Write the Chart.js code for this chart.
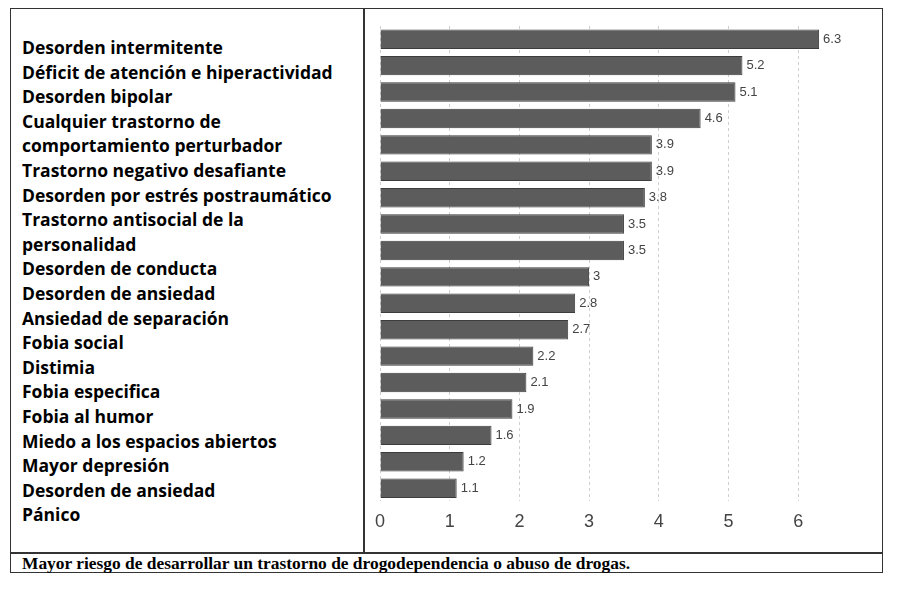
<!DOCTYPE html>
<html>
<head>
<meta charset="utf-8">
<script src="https://cdn.jsdelivr.net/npm/chart.js@4/dist/chart.umd.min.js"></script>
<style>
  body { margin: 0; background: #fff; }
  #frame { position: absolute; left: 10px; top: 8px; width: 873px; height: 565px; border: 1.5px solid #333; box-sizing: border-box; }
  #divider { position: absolute; left: 363px; top: 8px; width: 1.5px; height: 545px; background: #333; }
  #hline { position: absolute; left: 10px; top: 552px; width: 873px; height: 1.5px; background: #333; }
  #labels { position: absolute; left: 22px; top: 35px; font: bold 17.5px "Open Sans", Lato, sans-serif; line-height: 24.6px; color: #000; }
  #caption { position: absolute; left: 22px; top: 554px; font: bold 17.4px "Liberation Serif", "Times New Roman", serif; color: #000; line-height: 19px; }
  #wrap { position: absolute; left: 365px; top: 10px; width: 516px; height: 542px; }
</style>
</head>
<body>
<div id="frame"></div>
<div id="divider"></div>
<div id="hline"></div>
<div id="labels"></div>
<div id="caption"></div>
<div id="wrap"><canvas id="chart-1"></canvas></div>
<script>
// text lines of the left column (as in the original table)
const labelLines = [
    "Desorden intermitente",
    "Déficit de atención e hiperactividad",
    "Desorden bipolar",
    "Cualquier trastorno de",
    "comportamiento perturbador",
    "Trastorno negativo desafiante",
    "Desorden por estrés postraumático",
    "Trastorno antisocial de la",
    "personalidad",
    "Desorden de conducta",
    "Desorden de ansiedad",
    "Ansiedad de separación",
    "Fobia social",
    "Distimia",
    "Fobia especifica",
    "Fobia al humor",
    "Miedo a los espacios abiertos",
    "Mayor depresión",
    "Desorden de ansiedad",
    "Pánico",
];
const caption = "Mayor riesgo de desarrollar un trastorno de drogodependencia o abuso de drogas.";

// one entry per bar
const categories = ["b1", "b2", "b3", "b4", "b5", "b6", "b7", "b8", "b9", "b10",
    "b11", "b12", "b13", "b14", "b15", "b16", "b17", "b18"];
const values = [6.3, 5.2, 5.1, 4.6, 3.9, 3.9, 3.8, 3.5, 3.5, 3, 2.8, 2.7, 2.2, 2.1, 1.9, 1.6, 1.2, 1.1];
const xTicks = [0, 1, 2, 3, 4, 5, 6];

document.getElementById("labels").innerHTML = labelLines.map(l => "<div>" + l + "</div>").join("");
document.getElementById("caption").textContent = caption;

// draws the value at the end of every bar
const valueLabels = {
    id: "valueLabels",
    afterDatasetsDraw(chart) {
        const ctx = chart.ctx;
        ctx.save();
        ctx.font = '13px "Liberation Sans Narrow", "Liberation Sans", sans-serif';
        ctx.fillStyle = "#444";
        ctx.textBaseline = "middle";
        chart.getDatasetMeta(0).data.forEach((bar, i) => {
            ctx.fillText(String(values[i]), bar.x + 4, bar.y);
        });
        ctx.restore();
    },
};

const ctx1 = document.getElementById("chart-1").getContext("2d");
const myChart = new Chart(ctx1, {
    type: "bar",
    data: {
        labels: categories,
        datasets: [
            {
                data: values,
                backgroundColor: "#5c5c5c",
                borderColor: "#3c3c3c",
                borderWidth: 1,
                categoryPercentage: 0.8,
                barPercentage: 0.92,
            },
        ],
    },
    options: {
        indexAxis: "y",
        responsive: true,
        maintainAspectRatio: false,
        animation: false,
        layout: { padding: { left: 13, right: 34, top: 16, bottom: 9 } },
        plugins: { legend: { display: false }, tooltip: { enabled: false } },
        scales: {
            x: {
                min: 0,
                max: 6.7,
                afterBuildTicks: (axis) => { axis.ticks = xTicks.map(v => ({ value: v })); },
                border: { display: false, dash: [3, 3] },
                grid: { color: "#cfcfcf", drawTicks: false },
                ticks: {
                    color: "#444",
                    padding: 10,
                    font: { family: '"Liberation Sans Narrow", "Liberation Sans", sans-serif', size: 18 },
                },
            },
            y: { display: false },
        },
    },
    plugins: [valueLabels],
});
</script>
</body>
</html>
